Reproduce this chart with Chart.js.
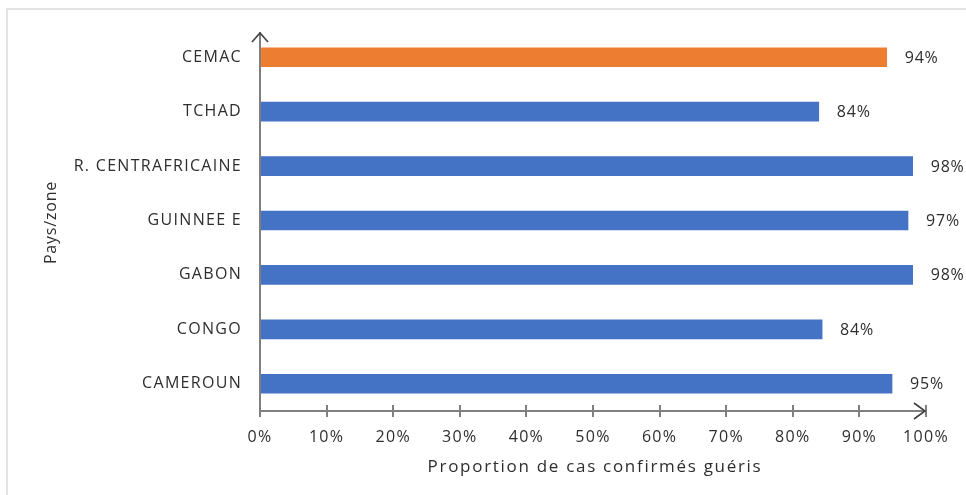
<!DOCTYPE html>
<html>
<head>
<meta charset="utf-8">
<script src="https://cdn.jsdelivr.net/npm/chart.js@4"></script>
<style>
html,body{margin:0;padding:0;background:#fff;}
#wrap{position:absolute;left:0;top:0;width:966px;height:495px;}
</style>
</head>
<body>
<div id="wrap"><canvas id="c" width="966" height="495"></canvas></div>
<script>
const categories = ["CEMAC", "TCHAD", "R. CENTRAFRICAINE", "GUINNEE E", "GABON", "CONGO", "CAMEROUN"];
const values = [94.1, 83.9, 98.0, 97.3, 98.0, 84.4, 94.9];
const valueLabels = ["94%", "84%", "98%", "97%", "98%", "84%", "95%"];
const barColors = ["#ED7D31", "#4472C4", "#4472C4", "#4472C4", "#4472C4", "#4472C4", "#4472C4"];
const xTicks = [0, 10, 20, 30, 40, 50, 60, 70, 80, 90, 100];
const xTitle = "Proportion de cas confirmés guéris";
const yTitle = "Pays/zone";

const FONT = "'Open Sans', sans-serif";
const TEXT = "#2e2e2e";
const AXIS = "#7f7f7f";

const decor = {
  id: "decor",
  beforeDraw(chart) {
    const ctx = chart.ctx;
    ctx.letterSpacing = "1.3px";
    ctx.save();
    ctx.strokeStyle = "#e3e3e3";
    ctx.lineWidth = 2;
    ctx.beginPath();
    ctx.moveTo(7, 495); ctx.lineTo(7, 9); ctx.lineTo(966, 9);
    ctx.stroke();
    ctx.restore();
  },
  afterDatasetsDraw(chart) {
    const ctx = chart.ctx;
    const xs = chart.scales.x;
    const a = chart.chartArea;
    ctx.save();
    ctx.strokeStyle = AXIS;
    ctx.lineWidth = 2;
    ctx.beginPath();
    ctx.moveTo(a.left, a.bottom); ctx.lineTo(a.left, a.top + 2);
    ctx.moveTo(a.left, a.bottom); ctx.lineTo(a.right, a.bottom);
    ctx.stroke();
    ctx.beginPath();
    xTicks.forEach(v => {
      const px = Math.round(xs.getPixelForValue(v));
      ctx.moveTo(px, a.bottom - 6); ctx.lineTo(px, a.bottom + 6);
    });
    ctx.stroke();
    ctx.strokeStyle = "#404040";
    ctx.lineWidth = 1.6;
    ctx.beginPath();
    ctx.moveTo(a.left - 8, a.top + 12); ctx.lineTo(a.left, a.top + 3); ctx.lineTo(a.left + 8, a.top + 12);
    ctx.moveTo(a.right - 12, a.bottom - 8); ctx.lineTo(a.right - 1, a.bottom); ctx.lineTo(a.right - 12, a.bottom + 8);
    ctx.stroke();
    ctx.fillStyle = TEXT;
    ctx.textBaseline = "middle";
    // value labels
    ctx.letterSpacing = "0.8px";
    ctx.font = "16px " + FONT;
    ctx.textAlign = "left";
    const meta = chart.getDatasetMeta(0);
    meta.data.forEach((bar, i) => {
      ctx.fillText(valueLabels[i], bar.x + 18, bar.y + 1);
    });
    // x title
    ctx.letterSpacing = "1.7px";
    ctx.font = "17px " + FONT;
    ctx.textAlign = "center";
    ctx.fillText(xTitle, (a.left + a.right) / 2 + 2, 467);
    // y title
    ctx.letterSpacing = "0.8px";
    ctx.font = "16px " + FONT;
    ctx.translate(51, (a.top + a.bottom) / 2 + 2);
    ctx.rotate(-Math.PI / 2);
    ctx.fillText(yTitle, 0, 0);
    ctx.restore();
  }
};

new Chart(document.getElementById("c"), {
  type: "bar",
  data: {
    labels: categories,
    datasets: [{
      data: values,
      backgroundColor: barColors,
      barThickness: 19,
      borderWidth: 0
    }]
  },
  options: {
    indexAxis: "y",
    responsive: false,
    animation: false,
    layout: { padding: { left: 0, top: 30, right: 40, bottom: 0 } },
    plugins: { legend: { display: false }, tooltip: { enabled: false } },
    scales: {
      x: {
        min: 0, max: 100,
        afterFit(s) { s.height = 84; },
        afterBuildTicks(s) { s.ticks = xTicks.map(v => ({ value: v })); },
        grid: { display: false, drawTicks: false },
        border: { display: false },
        ticks: {
          color: TEXT,
          font: { family: FONT, size: 16 },
          padding: 17,
          maxRotation: 0,
          autoSkip: false,
          callback: v => v + "%"
        },
        title: { display: false }
      },
      y: {
        afterFit(s) { s.width = 260; },
        grid: { display: false, drawTicks: false },
        border: { display: false },
        ticks: {
          color: TEXT,
          font: { family: FONT, size: 16 },
          padding: 18
        },
        title: { display: false }
      }
    }
  },
  plugins: [decor]
});
</script>
</body>
</html>
